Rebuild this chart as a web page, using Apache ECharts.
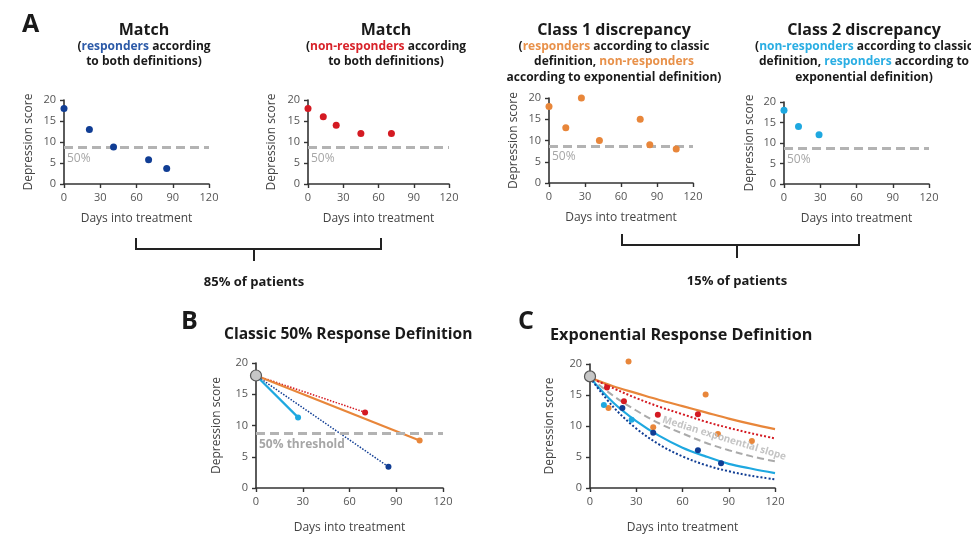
<!DOCTYPE html>
<html>
<head>
<meta charset="utf-8">
<script src="https://cdn.jsdelivr.net/npm/echarts@6/dist/echarts.min.js"></script>
<style>html,body{margin:0;padding:0;background:#fff;}#chart{width:971px;height:535px;}</style>
</head>
<body>
<div id="chart"></div>
<script>
// ---------- DATA ----------
const xTicks = [0, 30, 60, 90, 120];
const yTicks = [0, 5, 10, 15, 20];
const threshold = 8.7;          // 50% of baseline
const baseline = [0, 18];       // shared start point (day, score)

// Panel A
const a1Days = [0, 21, 41, 70, 85];
const a1Scores = [18, 13, 8.8, 5.8, 3.7];
const a2Days = [0, 13, 24, 45, 71];
const a2Scores = [18, 16, 14, 12, 12];
const a3Days = [0, 14, 27, 42, 76, 84, 106];
const a3Scores = [18, 13, 20, 10, 15, 9, 8];
const a4Days = [0, 12, 29];
const a4Scores = [18, 14, 12];

// Panel B: last observation per patient
const bRedEnd = [70, 12.1];
const bOrangeEnd = [105, 7.6];
const bBlueEnd = [85, 3.4];
const bCyanEnd = [27, 11.3];

// Panel C: observations
const cRedDays = [11, 22, 44, 70];
const cRedScores = [16.2, 14, 11.8, 11.9];
const cOrangeDays = [12, 25, 41, 75, 83, 105];
const cOrangeScores = [12.9, 20.4, 9.8, 15.1, 8.7, 7.6];
const cCyanDays = [9, 27];
const cCyanScores = [13.4, 11];
const cBlueDays = [21, 41, 70, 85];
const cBlueScores = [12.9, 8.9, 6.1, 4.0];

// Panel C: fitted exponential curves
const curveDays = [0, 15, 30, 45, 60, 75, 90, 105, 120];
const curveOrange = [17.8, 16.4, 15.3, 14.2, 13.2, 12.2, 11.2, 10.3, 9.5];
const curveRed = [17.8, 16.1, 14.5, 13.1, 11.9, 10.7, 9.7, 8.8, 8.0];
const curveMedian = [17.8, 14.9, 12.5, 10.4, 8.8, 7.3, 6.1, 5.1, 4.3];
const curveCyan = [17.8, 13.8, 10.8, 8.4, 6.5, 5.1, 3.9, 3.1, 2.4];
const curveBlue = [17.8, 13.1, 9.6, 7.0, 5.1, 3.7, 2.7, 1.95, 1.4];
const medianLabelPos = [87, 8.0];

// ---------- STYLE ----------
const F = '"Open Sans", sans-serif';
const BLUE = '#103d94', RED = '#d41a22', ORANGE = '#e8863a', CYAN = '#1ea8e0', GRAY = '#b3b3b3';

const zip = (a, b) => a.map((v, i) => [v, b[i]]);

const grids = [
  {left: 64, top: 100, width: 145, height: 84},
  {left: 308, top: 100, width: 141, height: 84},
  {left: 549, top: 98, width: 144, height: 85},
  {left: 784, top: 102, width: 145, height: 82},
  {left: 256, top: 363, width: 187, height: 125},
  {left: 590, top: 364, width: 185, height: 124}
];
const xGaps = [29, 29, 29, 29, 34, 34];
const yGaps = [29, 30, 29, 28, 33, 34];

const xAxes = grids.map((g, i) => ({
  type: 'value', gridIndex: i, min: xTicks[0], max: xTicks[xTicks.length - 1], interval: xTicks[1] - xTicks[0],
  name: 'Days into treatment', nameLocation: 'middle', nameGap: xGaps[i],
  nameTextStyle: {fontSize: 12, color: '#444', fontFamily: F},
  axisLine: {show: true, lineStyle: {color: '#333', width: 1.6}},
  axisTick: {show: true, length: 4, lineStyle: {color: '#333', width: 1.4}},
  axisLabel: {fontSize: 11, color: '#555', margin: 8, fontFamily: F},
  splitLine: {show: false}
}));
const yAxes = grids.map((g, i) => ({
  type: 'value', gridIndex: i, min: yTicks[0], max: yTicks[yTicks.length - 1], interval: yTicks[1] - yTicks[0],
  name: 'Depression score', nameLocation: 'middle', nameGap: yGaps[i],
  nameTextStyle: {fontSize: 12, color: '#444', fontFamily: F},
  axisLine: {show: true, lineStyle: {color: '#333', width: 1.6}},
  axisTick: {show: true, length: 4, lineStyle: {color: '#333', width: 1.4}},
  axisLabel: {fontSize: 11, color: '#555', margin: 8, fontFamily: F},
  splitLine: {show: false}
}));

function thresholdLine(text, bold) {
  return {
    silent: true, symbol: ['none', 'none'],
    data: [{yAxis: threshold}],
    lineStyle: {color: GRAY, width: 3, type: [9, 5]},
    label: {show: true, position: 'insideStartBottom', formatter: text, color: '#a6a6a6',
            fontSize: 12, fontWeight: bold ? 'bold' : 'normal', fontFamily: F, distance: [3, 5]}
  };
}

function dots(i, data, color, size, extra) {
  return Object.assign({
    type: 'scatter', xAxisIndex: i, yAxisIndex: i, data: data, symbolSize: size,
    itemStyle: {color: color, opacity: 1}, clip: false, z: 5
  }, extra || {});
}

function segment(end, color, dash) {
  return {
    type: 'line', xAxisIndex: 4, yAxisIndex: 4,
    data: [{value: baseline, symbol: 'none'}, {value: end, symbol: 'circle'}],
    symbolSize: 6, showSymbol: true,
    itemStyle: {color: color, opacity: 1},
    lineStyle: {color: color, width: dash ? 1.5 : 2.2, type: dash ? 'dotted' : 'solid'},
    z: 3
  };
}

function curve(vals, color, type, width) {
  return {
    type: 'line', xAxisIndex: 5, yAxisIndex: 5, data: zip(curveDays, vals), smooth: 0.35,
    showSymbol: false, symbol: 'none',
    lineStyle: {color: color, width: width, type: type}, z: 3
  };
}

const startStyle = {color: '#c6c6c6', borderColor: '#555', borderWidth: 1.2, opacity: 1};

const series = [
  dots(0, zip(a1Days, a1Scores), BLUE, 7, {markLine: thresholdLine('50%', false)}),
  dots(1, zip(a2Days, a2Scores), RED, 7, {markLine: thresholdLine('50%', false)}),
  dots(2, zip(a3Days, a3Scores), ORANGE, 7, {markLine: thresholdLine('50%', false)}),
  dots(3, zip(a4Days, a4Scores), CYAN, 7, {markLine: thresholdLine('50%', false)}),
  // Panel B
  Object.assign(segment(bRedEnd, RED, true), {markLine: thresholdLine('50% threshold', true)}),
  segment(bOrangeEnd, ORANGE, false),
  segment(bBlueEnd, BLUE, true),
  segment(bCyanEnd, CYAN, false),
  dots(4, [baseline], '#c6c6c6', 11, {itemStyle: startStyle, z: 6}),
  // Panel C
  curve(curveOrange, ORANGE, 'solid', 2.2),
  curve(curveRed, RED, 'dotted', 2),
  curve(curveMedian, '#aaaaaa', [7, 4], 2),
  curve(curveCyan, CYAN, 'solid', 2.2),
  curve(curveBlue, BLUE, 'dotted', 2),
  dots(5, zip(cOrangeDays, cOrangeScores), ORANGE, 6),
  dots(5, zip(cRedDays, cRedScores), RED, 6),
  dots(5, zip(cCyanDays, cCyanScores), CYAN, 6),
  dots(5, zip(cBlueDays, cBlueScores), BLUE, 6),
  dots(5, [baseline], '#c6c6c6', 11, {itemStyle: startStyle, z: 6}),
  dots(5, [medianLabelPos], 'rgba(0,0,0,0)', 1, {
    z: 7, silent: true,
    label: {show: true, position: 'inside', formatter: 'Median exponential slope', rotate: -17,
            color: '#c4c4c4', fontSize: 10, fontWeight: 'bold', fontFamily: F}
  })
];

// ---------- TEXT ----------
const TXT = '#1a1a1a';
function t(x, y, text, size, weight, rich, align) {
  return {
    type: 'text', x: x, y: y, silent: true,
    style: {
      text: text, fontSize: size, fontWeight: weight, fontFamily: F, fill: TXT,
      align: align || 'center', verticalAlign: 'middle', rich: rich || {}
    }
  };
}
function hl(color) {
  return {fill: color, color: color, fontSize: 12, fontWeight: 'bold', fontFamily: F};
}
const richA1 = {c: hl('#2c5aa8')};
const richA2 = {c: hl('#d8232a')};
const richA3 = {c: hl('#e8914a')};
const richA4 = {c: hl('#2aaee3')};

const graphic = [
  t(22, 25, 'A', 25, 'bold', null, 'left'),
  t(181, 322, 'B', 25, 'bold', null, 'left'),
  t(518, 322, 'C', 25, 'bold', null, 'left'),
  t(144, 30.5, 'Match', 16, 'bold'),
  t(144, 46.7, '({c|responders} according', 12, 'bold', richA1),
  t(144, 61.7, 'to both definitions)', 12, 'bold'),
  t(386, 30.5, 'Match', 16, 'bold'),
  t(386, 46.7, '({c|non-responders} according', 12, 'bold', richA2),
  t(386, 61.7, 'to both definitions)', 12, 'bold'),
  t(614, 30.5, 'Class 1 discrepancy', 16, 'bold'),
  t(614, 46.7, '({c|responders} according to classic', 12, 'bold', richA3),
  t(614, 61.7, 'definition, {c|non-responders}', 12, 'bold', richA3),
  t(614, 77.3, 'according to exponential definition)', 12, 'bold'),
  t(864, 30.5, 'Class 2 discrepancy', 16, 'bold'),
  t(864, 46.7, '({c|non-responders} according to classic', 12, 'bold', richA4),
  t(864, 61.7, 'definition, {c|responders} according to', 12, 'bold', richA4),
  t(864, 77.3, 'exponential definition)', 12, 'bold'),
  t(224, 335, 'Classic 50% Response Definition', 15.6, 'bold', null, 'left'),
  t(550, 335, 'Exponential Response Definition', 16.2, 'bold', null, 'left'),
  {type: 'polyline', silent: true, shape: {points: [[136, 238], [136, 249], [381, 249], [381, 238]]}, style: {stroke: '#222', lineWidth: 2, fill: null}},
  {type: 'polyline', silent: true, shape: {points: [[254, 249], [254, 261]]}, style: {stroke: '#222', lineWidth: 2}},
  {type: 'polyline', silent: true, shape: {points: [[622, 234], [622, 245], [859, 245], [859, 234]]}, style: {stroke: '#222', lineWidth: 2, fill: null}},
  {type: 'polyline', silent: true, shape: {points: [[737, 245], [737, 258]]}, style: {stroke: '#222', lineWidth: 2}},
  t(254, 282, '85% of patients', 13, 'bold'),
  t(737, 281.5, '15% of patients', 13, 'bold')
];

const chart = echarts.init(document.getElementById('chart'), null, {renderer: 'canvas'});
chart.setOption({
  backgroundColor: '#fff',
  animation: false,
  textStyle: {fontFamily: F},
  grid: grids,
  xAxis: xAxes,
  yAxis: yAxes,
  series: series,
  graphic: graphic
});
</script>
</body>
</html>
